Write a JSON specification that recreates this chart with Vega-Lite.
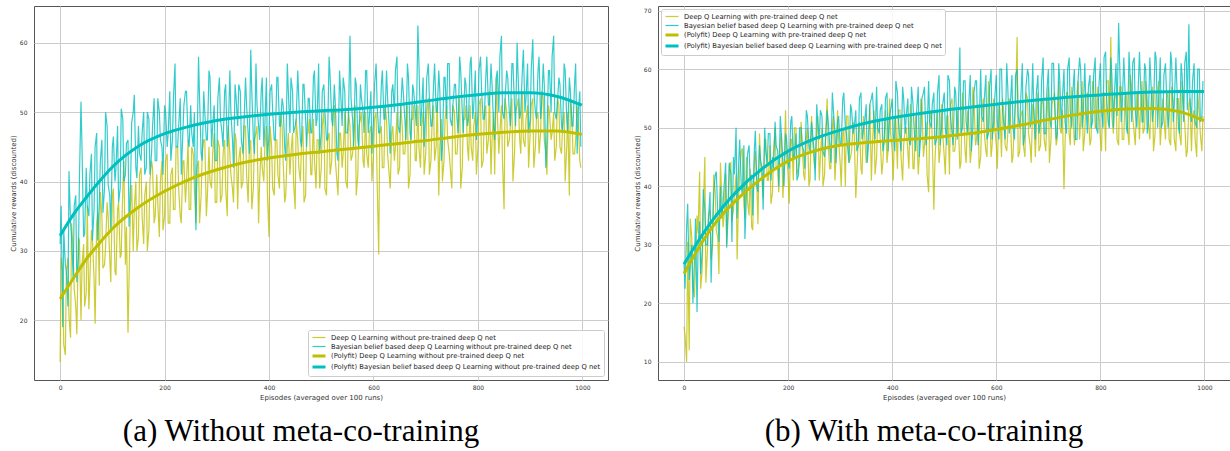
{
"$schema": "https://vega.github.io/schema/vega-lite/v6.json",
"background": "white",
"padding": {"left": 9, "top": 5, "right": 0, "bottom": 0},
"bounds": "flush",
"spacing": 50,
"config": {
 "view": {"stroke": "#555555", "strokeWidth": 1},
 "axis": {"domain": false, "ticks": false, "grid": true, "gridColor": "#cccccc", "gridWidth": 1, "labelFont": "DejaVu Sans", "labelFontSize": 6, "labelColor": "#333333", "titleFont": "DejaVu Sans", "titleFontSize": 7, "titleFontWeight": "normal", "titleColor": "#333333", "labelPadding": 7},
 "axisY": {"titleX": -20.5, "titleBaseline": "middle"},
 "axisX": {"titleY": 17, "titleBaseline": "middle", "labelPadding": 4, "format": "d"},
 "title": {"orient": "bottom", "anchor": "middle", "frame": "group", "dx": -20, "font": "Liberation Serif", "fontSize": 31, "fontWeight": "normal", "color": "#000000", "offset": 17},
 "legend": {"title": null, "fillColor": "rgba(255,255,255,0.85)", "strokeColor": "#cccccc", "padding": 3, "cornerRadius": 2, "labelFont": "DejaVu Sans", "labelFontSize": 6.8, "labelColor": "#222222", "symbolType": "M-1,0H2.714", "symbolSize": 49, "labelOffset": 10, "rowPadding": -1.6, "labelLimit": 500}
},
"datasets": {
 "noise": [
{"e":0,"a":14,"b":31,"c":16,"d":27},{"e":5,"a":27,"b":19,"c":10,"d":33},{"e":10,"a":15,"b":28,"c":12,"d":24},{"e":15,"a":29,"b":22,"c":31,"d":30},{"e":20,"a":17.5,"b":34,"c":21,"d":27},
{"e":25,"a":30,"b":26,"c":35,"d":18.5},{"e":30,"a":22,"b":38,"c":42.5,"d":34},{"e":35,"a":32,"b":29,"c":26,"d":29},{"e":40,"a":20,"b":51.5,"c":45,"d":36},{"e":45,"a":31,"b":32,"c":29,"d":30},
{"e":50,"a":24,"b":42,"c":36,"d":39},{"e":55,"a":21.6,"b":35,"c":30,"d":33},{"e":60,"a":33,"b":44,"c":39,"d":42},{"e":65,"a":26,"b":36,"c":31,"d":35},{"e":70,"a":34,"b":47,"c":44,"d":40},
{"e":75,"a":25,"b":37,"c":33,"d":37},{"e":80,"a":35,"b":46,"c":42,"d":44},{"e":85,"a":28,"b":39,"c":35,"d":38},{"e":90,"a":37,"b":48,"c":44,"d":42},{"e":95,"a":29,"b":38,"c":36,"d":45},
{"e":100,"a":38,"b":45,"c":42,"d":50},{"e":105,"a":27,"b":40,"c":38,"d":44},{"e":110,"a":36,"b":48,"c":46,"d":40},{"e":115,"a":29,"b":39,"c":37,"d":47},{"e":120,"a":39,"b":49,"c":45,"d":39},
{"e":125,"a":28,"b":41,"c":35,"d":47},{"e":130,"a":18.2,"b":46,"c":33,"d":42},{"e":135,"a":37,"b":40,"c":44,"d":46},{"e":140,"a":30,"b":50,"c":40,"d":40},{"e":145,"a":40,"b":42,"c":49,"d":47},
{"e":150,"a":32,"b":48,"c":41,"d":43},{"e":155,"a":42,"b":43,"c":48,"d":50},{"e":160,"a":31,"b":50,"c":41,"d":44},{"e":165,"a":40,"b":42,"c":47,"d":49},{"e":170,"a":33,"b":49,"c":39,"d":45},
{"e":175,"a":43,"b":44,"c":50,"d":51},{"e":180,"a":34,"b":52,"c":43,"d":46},{"e":185,"a":41,"b":43,"c":48,"d":52},{"e":190,"a":32,"b":50,"c":38,"d":44},{"e":195,"a":43,"b":45,"c":53,"d":49},
{"e":200,"a":35,"b":51,"c":42,"d":44},{"e":205,"a":44,"b":45,"c":48,"d":51},{"e":210,"a":34,"b":53,"c":41,"d":45},{"e":215,"a":42,"b":46,"c":50,"d":49},{"e":220,"a":36,"b":57,"c":43,"d":42},
{"e":225,"a":45,"b":45,"c":51,"d":50},{"e":230,"a":35,"b":52,"c":42,"d":46},{"e":235,"a":43,"b":47,"c":48,"d":53},{"e":240,"a":37,"b":53,"c":40,"d":47},{"e":245,"a":46,"b":46,"c":52,"d":51},
{"e":250,"a":36,"b":51,"c":44,"d":46},{"e":255,"a":44,"b":45,"c":49,"d":54},{"e":260,"a":34,"b":33,"c":41,"d":48},{"e":265,"a":43,"b":58,"c":50,"d":52},{"e":270,"a":38,"b":44,"c":42,"d":45},
{"e":275,"a":46,"b":53,"c":55,"d":53},{"e":280,"a":35,"b":46,"c":43,"d":47},{"e":285,"a":45,"b":56,"c":50,"d":56},{"e":290,"a":39,"b":45,"c":41,"d":49},{"e":295,"a":47,"b":51,"c":53,"d":51},
{"e":300,"a":37,"b":43,"c":44,"d":47},{"e":305,"a":45,"b":55,"c":49,"d":55},{"e":310,"a":38,"b":47,"c":40,"d":50},{"e":315,"a":46,"b":53,"c":52,"d":46},{"e":320,"a":35,"b":45,"c":45,"d":54},
{"e":325,"a":44,"b":56,"c":51,"d":49},{"e":330,"a":39,"b":46,"c":38,"d":53},{"e":335,"a":47,"b":54,"c":49,"d":47},{"e":340,"a":36,"b":48,"c":43,"d":56},{"e":345,"a":45,"b":53,"c":52,"d":50},
{"e":350,"a":40,"b":44,"c":44,"d":54},{"e":355,"a":48,"b":55,"c":50,"d":48},{"e":360,"a":37,"b":47,"c":41,"d":55},{"e":365,"a":46,"b":59,"c":53,"d":51},{"e":370,"a":39,"b":46,"c":45,"d":57},
{"e":375,"a":47,"b":57,"c":51,"d":49},{"e":380,"a":34,"b":48,"c":42,"d":54},{"e":385,"a":45,"b":53,"c":49,"d":48},{"e":390,"a":40,"b":45,"c":44,"d":56},{"e":395,"a":48,"b":55,"c":55,"d":52},
{"e":400,"a":32,"b":47,"c":46,"d":55},{"e":405,"a":45,"b":54,"c":52,"d":46},{"e":410,"a":38,"b":46,"c":43,"d":56},{"e":415,"a":46,"b":55,"c":53,"d":48},{"e":420,"a":39,"b":48,"c":41,"d":57},
{"e":425,"a":48,"b":52,"c":50,"d":49},{"e":430,"a":37,"b":45,"c":46,"d":55},{"e":435,"a":45,"b":57,"c":54,"d":47},{"e":440,"a":41,"b":47,"c":43,"d":54},{"e":445,"a":47,"b":53,"c":52,"d":46},
{"e":450,"a":36,"b":48,"c":42,"d":57},{"e":455,"a":46,"b":56,"c":55,"d":49},{"e":460,"a":40,"b":46,"c":45,"d":56},{"e":465,"a":48,"b":54,"c":51,"d":47},{"e":470,"a":38,"b":49,"c":39,"d":58},
{"e":475,"a":47,"b":52,"c":53,"d":50},{"e":480,"a":41,"b":47,"c":36,"d":56},{"e":485,"a":49,"b":55,"c":50,"d":48},{"e":490,"a":39,"b":48,"c":44,"d":59},{"e":495,"a":46,"b":57,"c":54,"d":50},
{"e":500,"a":42,"b":47,"c":45,"d":56},{"e":505,"a":50,"b":54,"c":52,"d":47},{"e":510,"a":38,"b":46,"c":42,"d":58},{"e":515,"a":47,"b":58,"c":55,"d":49},{"e":520,"a":43,"b":49,"c":46,"d":57},
{"e":525,"a":51,"b":54,"c":53,"d":48},{"e":530,"a":40,"b":44,"c":43,"d":63.7},{"e":535,"a":47,"b":56,"c":56,"d":50},{"e":540,"a":42,"b":48,"c":46,"d":58},{"e":545,"a":50,"b":53,"c":53,"d":49},
{"e":550,"a":39,"b":47,"c":44,"d":59},{"e":555,"a":48,"b":61,"c":57,"d":50},{"e":560,"a":44,"b":49,"c":47,"d":58},{"e":565,"a":51,"b":55,"c":54,"d":47},{"e":570,"a":41,"b":46,"c":45,"d":60},
{"e":575,"a":49,"b":54,"c":55,"d":51},{"e":580,"a":43,"b":50,"c":46,"d":59},{"e":585,"a":50,"b":56,"c":58,"d":49},{"e":590,"a":42,"b":47,"c":45,"d":60},{"e":595,"a":48,"b":53,"c":55,"d":51},
{"e":600,"a":44,"b":49,"c":47,"d":59},{"e":605,"a":50,"b":57,"c":54,"d":48},{"e":610,"a":29.5,"b":47,"c":45,"d":60},{"e":615,"a":48,"b":54,"c":52,"d":50},{"e":620,"a":42,"b":49,"c":46,"d":61},
{"e":625,"a":49,"b":56,"c":55,"d":49},{"e":630,"a":41,"b":48,"c":44,"d":59},{"e":635,"a":47,"b":53,"c":52,"d":48},{"e":640,"a":43,"b":50,"c":65.5,"d":60},{"e":645,"a":50,"b":58,"c":46,"d":50},
{"e":650,"a":42,"b":47,"c":53,"d":61},{"e":655,"a":48,"b":55,"c":45,"d":49},{"e":660,"a":44,"b":49,"c":55,"d":60},{"e":665,"a":51,"b":57,"c":47,"d":50},{"e":670,"a":41,"b":47,"c":54,"d":61},
{"e":675,"a":49,"b":54,"c":45,"d":48},{"e":680,"a":43,"b":50,"c":56,"d":59},{"e":685,"a":51,"b":62.5,"c":47,"d":51},{"e":690,"a":42,"b":48,"c":54,"d":62},{"e":695,"a":50,"b":55,"c":46,"d":49},
{"e":700,"a":44,"b":50,"c":57,"d":60},{"e":705,"a":52,"b":57,"c":48,"d":50},{"e":710,"a":43,"b":48,"c":55,"d":61},{"e":715,"a":51,"b":54,"c":47,"d":48},{"e":720,"a":45,"b":50,"c":58,"d":61},
{"e":725,"a":38,"b":56,"c":49,"d":50},{"e":730,"a":49,"b":43,"c":39.5,"d":60},{"e":735,"a":43,"b":55,"c":56,"d":49},{"e":740,"a":51,"b":49,"c":49,"d":62},{"e":745,"a":44,"b":57,"c":57,"d":50},
{"e":750,"a":39,"b":48,"c":47,"d":60},{"e":755,"a":50,"b":54,"c":56,"d":48},{"e":760,"a":44,"b":49,"c":48,"d":62},{"e":765,"a":52,"b":58,"c":58,"d":50},{"e":770,"a":42,"b":50,"c":49,"d":61},
{"e":775,"a":49,"b":55,"c":56,"d":49},{"e":780,"a":45,"b":48,"c":47,"d":59},{"e":785,"a":51,"b":57,"c":58,"d":51},{"e":790,"a":43,"b":49,"c":50,"d":62},{"e":795,"a":50,"b":56,"c":57,"d":49},
{"e":800,"a":45,"b":50,"c":48,"d":61},{"e":805,"a":52,"b":58,"c":56,"d":50},{"e":810,"a":43,"b":49,"c":46,"d":63},{"e":815,"a":51,"b":55,"c":58,"d":51},{"e":820,"a":46,"b":51,"c":65.5,"d":62},
{"e":825,"a":41,"b":57,"c":49,"d":50},{"e":830,"a":50,"b":48,"c":56,"d":61},{"e":835,"a":55,"b":55,"c":47,"d":67.9},{"e":840,"a":44,"b":50,"c":57,"d":51},{"e":845,"a":51,"b":61,"c":48,"d":62},
{"e":850,"a":36,"b":49,"c":56,"d":50},{"e":855,"a":50,"b":56,"c":47,"d":63},{"e":860,"a":46,"b":50,"c":57,"d":51},{"e":865,"a":52,"b":57,"c":49,"d":62},{"e":870,"a":44,"b":51,"c":56,"d":50},
{"e":875,"a":51,"b":60,"c":48,"d":63},{"e":880,"a":46,"b":49,"c":58,"d":51},{"e":885,"a":53,"b":56,"c":50,"d":61},{"e":890,"a":45,"b":50,"c":55,"d":49},{"e":895,"a":51,"b":57,"c":48,"d":62},
{"e":900,"a":47,"b":49,"c":57,"d":51},{"e":905,"a":52,"b":60.5,"c":49,"d":63},{"e":910,"a":45,"b":50,"c":56,"d":50},{"e":915,"a":50,"b":56,"c":47,"d":62},{"e":920,"a":47,"b":49,"c":55,"d":51},
{"e":925,"a":52,"b":57,"c":48,"d":61},{"e":930,"a":44,"b":42,"c":56,"d":50},{"e":935,"a":51,"b":56,"c":47,"d":63},{"e":940,"a":46,"b":50,"c":54,"d":51},{"e":945,"a":50,"b":61,"c":46,"d":62},
{"e":950,"a":45,"b":49,"c":55,"d":50},{"e":955,"a":51,"b":55,"c":47,"d":61},{"e":960,"a":44,"b":48,"c":53,"d":51},{"e":965,"a":50,"b":57,"c":45,"d":63},{"e":970,"a":45,"b":49,"c":54,"d":67.7},
{"e":975,"a":38,"b":55,"c":46,"d":51},{"e":980,"a":49,"b":48,"c":53,"d":61},{"e":985,"a":44,"b":54,"c":45,"d":50},{"e":990,"a":51,"b":44,"c":52,"d":60},{"e":995,"a":43,"b":53,"c":46,"d":52},
{"e":2,"a":29,"b":36.5,"c":14.5,"d":22.5},{"e":7,"a":16.5,"b":33,"c":30.5,"d":37},{"e":12,"a":27,"b":27,"c":34.5,"d":26.5},{"e":17,"a":20.5,"b":41.5,"c":23.5,"d":20},{"e":22,"a":34,"b":32,"c":26.5,"d":34.5},
{"e":27,"a":24.5,"b":36.5,"c":32,"d":30},{"e":32,"a":18,"b":25.5,"c":22.5,"d":25},{"e":37,"a":31.5,"b":40.5,"c":36,"d":39.5},{"e":42,"a":28,"b":44.5,"c":23.5,"d":30},{"e":47,"a":22,"b":32.5,"c":35,"d":34.5},
{"e":52,"a":36.5,"b":36.5,"c":27.5,"d":23.5},{"e":57,"a":26,"b":41,"c":42,"d":38.5},{"e":62,"a":31.5,"b":31.5,"c":32.5,"d":42.5},{"e":67,"a":19.5,"b":45,"c":25,"d":30.5},{"e":72,"a":35.5,"b":31.5,"c":39.5,"d":34.5},
{"e":77,"a":38.5,"b":43,"c":35,"d":40},{"e":82,"a":27.5,"b":35.5,"c":30,"d":29.5},{"e":87,"a":30.5,"b":50,"c":43.5,"d":44},{"e":92,"a":35,"b":39.5,"c":34,"d":30.5},{"e":97,"a":25.5,"b":33,"c":38.5,"d":42},
{"e":102,"a":39,"b":46.5,"c":27.5,"d":34.5},{"e":107,"a":26.5,"b":42,"c":42.5,"d":48},{"e":112,"a":37,"b":37,"c":46.5,"d":38.5},{"e":117,"a":29.5,"b":50.5,"c":34.5,"d":31},{"e":122,"a":43,"b":40,"c":37.5,"d":45.5},
{"e":127,"a":33.5,"b":45.5,"c":43,"d":41},{"e":132,"a":26,"b":33.5,"c":32.5,"d":35},{"e":137,"a":39.5,"b":48.5,"c":46,"d":49.5},{"e":142,"a":36,"b":52.5,"c":33.5,"d":39},{"e":147,"a":30,"b":40.5,"c":44,"d":44.5},
{"e":152,"a":41,"b":44,"c":38,"d":36},{"e":157,"a":35,"b":47,"c":48,"d":46},{"e":162,"a":38,"b":41,"c":41,"d":49},{"e":167,"a":30,"b":50,"c":37,"d":41},{"e":172,"a":40,"b":41,"c":46,"d":43},
{"e":177,"a":42,"b":48,"c":43,"d":47},{"e":182,"a":35,"b":43,"c":39,"d":40},{"e":187,"a":37,"b":52,"c":49,"d":49},{"e":192,"a":40,"b":46,"c":42,"d":40},{"e":197,"a":33,"b":41,"c":45,"d":48},
{"e":202,"a":43,"b":50,"c":37,"d":43},{"e":207,"a":34,"b":47,"c":48,"d":52},{"e":212,"a":41,"b":43,"c":50,"d":45},{"e":217,"a":36,"b":52,"c":42,"d":41},{"e":222,"a":45,"b":45,"c":44,"d":50},
{"e":227,"a":39,"b":48,"c":47,"d":47},{"e":232,"a":34,"b":41,"c":41,"d":43},{"e":237,"a":43,"b":51,"c":50,"d":52},{"e":242,"a":40,"b":53,"c":41,"d":46},{"e":247,"a":36,"b":45,"c":48,"d":49},
{"e":252,"a":45,"b":47,"c":43,"d":41},{"e":257,"a":39,"b":50,"c":52,"d":51},{"e":262,"a":42,"b":43,"c":45,"d":53},{"e":267,"a":34,"b":52,"c":40,"d":46},{"e":272,"a":44,"b":43,"c":49,"d":48},
{"e":277,"a":46,"b":50,"c":47,"d":51},{"e":282,"a":38,"b":46,"c":43,"d":44},{"e":287,"a":40,"b":55,"c":52,"d":53},{"e":292,"a":44,"b":48,"c":45,"d":44},{"e":297,"a":37,"b":43,"c":48,"d":52},
{"e":302,"a":46,"b":52,"c":40,"d":47},{"e":307,"a":37,"b":49,"c":50,"d":56},{"e":312,"a":44,"b":45,"c":52,"d":49},{"e":317,"a":39,"b":54,"c":44,"d":44},{"e":322,"a":48,"b":47,"c":46,"d":53},
{"e":327,"a":41,"b":50,"c":49,"d":50},{"e":332,"a":37,"b":42,"c":42,"d":46},{"e":337,"a":46,"b":52,"c":51,"d":55},{"e":342,"a":43,"b":54,"c":42,"d":48},{"e":347,"a":39,"b":46,"c":49,"d":51},
{"e":352,"a":48,"b":48,"c":45,"d":44},{"e":357,"a":41,"b":51,"c":54,"d":54},{"e":362,"a":44,"b":44,"c":47,"d":56},{"e":367,"a":36,"b":53,"c":42,"d":48},{"e":372,"a":46,"b":44,"c":51,"d":50},
{"e":377,"a":48,"b":51,"c":48,"d":53},{"e":382,"a":40,"b":46,"c":44,"d":46},{"e":387,"a":42,"b":55,"c":53,"d":55},{"e":392,"a":45,"b":48,"c":46,"d":46},{"e":397,"a":38,"b":43,"c":49,"d":53},
{"e":402,"a":48,"b":53,"c":41,"d":49},{"e":407,"a":39,"b":50,"c":51,"d":58},{"e":412,"a":46,"b":46,"c":53,"d":51},{"e":417,"a":41,"b":55,"c":45,"d":46},{"e":422,"a":50,"b":48,"c":47,"d":55},
{"e":427,"a":43,"b":51,"c":50,"d":52},{"e":432,"a":38,"b":43,"c":43,"d":48},{"e":437,"a":47,"b":53,"c":52,"d":57},{"e":442,"a":44,"b":55,"c":43,"d":50},{"e":447,"a":40,"b":47,"c":50,"d":53},
{"e":452,"a":49,"b":49,"c":45,"d":45},{"e":457,"a":42,"b":52,"c":54,"d":55},{"e":462,"a":45,"b":45,"c":47,"d":57},{"e":467,"a":37,"b":54,"c":42,"d":49},{"e":472,"a":47,"b":45,"c":51,"d":51},
{"e":477,"a":49,"b":52,"c":48,"d":54},{"e":482,"a":41,"b":47,"c":44,"d":47},{"e":487,"a":43,"b":56,"c":53,"d":56},{"e":492,"a":46,"b":49,"c":46,"d":47},{"e":497,"a":39,"b":44,"c":49,"d":54},
{"e":502,"a":48,"b":53,"c":42,"d":50},{"e":507,"a":39,"b":50,"c":52,"d":59},{"e":512,"a":46,"b":46,"c":54,"d":52},{"e":517,"a":41,"b":55,"c":46,"d":47},{"e":522,"a":50,"b":48,"c":48,"d":56},
{"e":527,"a":43,"b":51,"c":51,"d":53},{"e":532,"a":38,"b":43,"c":44,"d":49},{"e":537,"a":47,"b":53,"c":53,"d":58},{"e":542,"a":44,"b":55,"c":44,"d":51},{"e":547,"a":40,"b":47,"c":51,"d":54},
{"e":552,"a":50,"b":49,"c":46,"d":46},{"e":557,"a":43,"b":52,"c":55,"d":56},{"e":562,"a":46,"b":45,"c":48,"d":58},{"e":567,"a":38,"b":54,"c":43,"d":50},{"e":572,"a":48,"b":45,"c":52,"d":52},
{"e":577,"a":50,"b":52,"c":49,"d":55},{"e":582,"a":42,"b":47,"c":45,"d":48},{"e":587,"a":44,"b":56,"c":54,"d":57},{"e":592,"a":47,"b":49,"c":47,"d":48},{"e":597,"a":40,"b":44,"c":50,"d":55},
{"e":602,"a":49,"b":54,"c":43,"d":51},{"e":607,"a":40,"b":51,"c":53,"d":60},{"e":612,"a":47,"b":47,"c":55,"d":53},{"e":617,"a":42,"b":56,"c":47,"d":48},{"e":622,"a":51,"b":49,"c":49,"d":57},
{"e":627,"a":44,"b":52,"c":52,"d":54},{"e":632,"a":39,"b":44,"c":45,"d":50},{"e":637,"a":48,"b":54,"c":54,"d":59},{"e":642,"a":45,"b":56,"c":45,"d":52},{"e":647,"a":41,"b":48,"c":52,"d":55},
{"e":652,"a":51,"b":50,"c":47,"d":47},{"e":657,"a":44,"b":53,"c":56,"d":57},{"e":662,"a":47,"b":46,"c":49,"d":59},{"e":667,"a":39,"b":55,"c":44,"d":51},{"e":672,"a":49,"b":46,"c":53,"d":53},
{"e":677,"a":51,"b":53,"c":50,"d":56},{"e":682,"a":43,"b":48,"c":46,"d":49},{"e":687,"a":45,"b":57,"c":55,"d":58},{"e":692,"a":48,"b":50,"c":48,"d":49},{"e":697,"a":41,"b":45,"c":51,"d":56},
{"e":702,"a":50,"b":55,"c":44,"d":52},{"e":707,"a":41,"b":52,"c":54,"d":61},{"e":712,"a":48,"b":48,"c":56,"d":54},{"e":717,"a":43,"b":57,"c":48,"d":49},{"e":722,"a":52,"b":50,"c":50,"d":58},
{"e":727,"a":45,"b":53,"c":53,"d":55},{"e":732,"a":40,"b":45,"c":47,"d":51},{"e":737,"a":49,"b":55,"c":56,"d":60},{"e":742,"a":46,"b":57,"c":47,"d":53},{"e":747,"a":42,"b":49,"c":54,"d":56},
{"e":752,"a":51,"b":51,"c":49,"d":48},{"e":757,"a":44,"b":54,"c":58,"d":58},{"e":762,"a":47,"b":47,"c":51,"d":60},{"e":767,"a":39,"b":56,"c":46,"d":52},{"e":772,"a":49,"b":47,"c":55,"d":54},
{"e":777,"a":51,"b":54,"c":52,"d":57},{"e":782,"a":43,"b":49,"c":48,"d":50},{"e":787,"a":45,"b":58,"c":57,"d":59},{"e":792,"a":48,"b":51,"c":50,"d":50},{"e":797,"a":41,"b":46,"c":53,"d":57},
{"e":802,"a":51,"b":56,"c":46,"d":53},{"e":807,"a":42,"b":53,"c":56,"d":62},{"e":812,"a":49,"b":49,"c":58,"d":55},{"e":817,"a":44,"b":58,"c":50,"d":50},{"e":822,"a":53,"b":51,"c":52,"d":59},
{"e":827,"a":46,"b":54,"c":55,"d":56},{"e":832,"a":41,"b":46,"c":48,"d":52},{"e":837,"a":50,"b":56,"c":57,"d":61},{"e":842,"a":47,"b":58,"c":48,"d":54},{"e":847,"a":43,"b":50,"c":55,"d":57},
{"e":852,"a":52,"b":52,"c":50,"d":49},{"e":857,"a":45,"b":55,"c":59,"d":59},{"e":862,"a":48,"b":48,"c":52,"d":61},{"e":867,"a":40,"b":57,"c":47,"d":53},{"e":872,"a":50,"b":48,"c":56,"d":55},
{"e":877,"a":52,"b":55,"c":53,"d":58},{"e":882,"a":44,"b":50,"c":49,"d":51},{"e":887,"a":46,"b":59,"c":58,"d":60},{"e":892,"a":49,"b":52,"c":51,"d":51},{"e":897,"a":42,"b":47,"c":54,"d":58},
{"e":902,"a":51,"b":56,"c":46,"d":53},{"e":907,"a":42,"b":53,"c":56,"d":62},{"e":912,"a":49,"b":49,"c":58,"d":55},{"e":917,"a":44,"b":58,"c":50,"d":50},{"e":922,"a":53,"b":51,"c":52,"d":59},
{"e":927,"a":46,"b":54,"c":55,"d":56},{"e":932,"a":41,"b":46,"c":48,"d":52},{"e":937,"a":50,"b":56,"c":57,"d":61},{"e":942,"a":47,"b":58,"c":48,"d":54},{"e":947,"a":43,"b":50,"c":55,"d":57},
{"e":952,"a":52,"b":51,"c":49,"d":49},{"e":957,"a":45,"b":54,"c":58,"d":59},{"e":962,"a":48,"b":47,"c":51,"d":61},{"e":967,"a":40,"b":56,"c":46,"d":53},{"e":972,"a":50,"b":47,"c":55,"d":55},
{"e":977,"a":52,"b":53,"c":52,"d":58},{"e":982,"a":44,"b":48,"c":48,"d":51},{"e":987,"a":46,"b":57,"c":56,"d":60},{"e":992,"a":49,"b":50,"c":49,"d":51},{"e":997,"a":42,"b":45,"c":52,"d":58}
 ],
 "fit": [
{"e":0,"fa":23.1,"fb":32.2,"fc":25.1,"fd":26.7},{"e":25,"fa":26.0,"fb":35.2,"fc":29.0,"fd":30.3},{"e":50,"fa":28.8,"fb":37.7,"fc":32.5,"fd":33.6},{"e":75,"fa":31.1,"fb":40.0,"fc":35.3,"fd":36.5},
{"e":100,"fa":33.2,"fb":42.1,"fc":37.6,"fd":39.0},{"e":150,"fa":36.3,"fb":45.1,"fc":41.4,"fd":43.0},{"e":200,"fa":38.6,"fb":46.9,"fc":44.3,"fd":46.0},{"e":250,"fa":40.4,"fb":48.0,"fc":46.0,"fd":48.1},
{"e":300,"fa":41.7,"fb":48.8,"fc":47.0,"fd":49.6},{"e":350,"fa":42.7,"fb":49.3,"fc":47.5,"fd":50.8},{"e":400,"fa":43.4,"fb":49.7,"fc":47.8,"fd":51.7},{"e":450,"fa":43.9,"fb":50.0,"fc":48.1,"fd":52.4},
{"e":500,"fa":44.3,"fb":50.2,"fc":48.5,"fd":53.0},{"e":550,"fa":44.7,"fb":50.4,"fc":49.0,"fd":53.5},{"e":600,"fa":45.1,"fb":50.7,"fc":49.7,"fd":54.0},{"e":650,"fa":45.5,"fb":51.1,"fc":50.5,"fd":54.5},
{"e":700,"fa":45.9,"fb":51.6,"fc":51.4,"fd":54.9},{"e":750,"fa":46.4,"fb":52.1,"fc":52.2,"fd":55.3},{"e":800,"fa":46.8,"fb":52.5,"fc":52.8,"fd":55.6},{"e":850,"fa":47.1,"fb":52.8,"fc":53.2,"fd":55.9},
{"e":900,"fa":47.3,"fb":52.8,"fc":53.3,"fd":56.1},{"e":950,"fa":47.3,"fb":52.3,"fc":52.8,"fd":56.2},{"e":999,"fa":46.8,"fb":51.0,"fc":51.2,"fd":56.2}
 ]
},
"resolve": {"scale": {"x": "independent", "y": "independent", "color": "independent", "strokeWidth": "independent", "opacity": "independent"}, "legend": {"color": "independent", "strokeWidth": "independent", "opacity": "independent"}},
"hconcat": [
 {
  "width": 574, "height": 374,
  "title": {"text": "(a) Without meta-co-training"},
  "encoding": {
   "x": {"field": "e", "type": "quantitative", "scale": {"domain": [-50, 1049], "nice": false, "zero": false}, "axis": {"values": [0,200,400,600,800,1000], "title": "Episodes (averaged over 100 runs)"}},
   "y": {"field": "v", "type": "quantitative", "scale": {"domain": [11.4, 65.3], "nice": false, "zero": false}, "axis": {"values": [20,30,40,50,60], "title": "Cumulative rewards (discounted)"}},
   "color": {"field": "s", "type": "nominal", "scale": {"domain": ["a","b","fa","fb"], "range": ["#bfbf00","#00bfbf","#bfbf00","#00bfbf"]}, "legend": {"orient": "bottom-right", "offset": 4, "labelExpr": "datum.label == 'a' ? 'Deep Q Learning without pre-trained deep Q net' : datum.label == 'b' ? 'Bayesian belief based deep Q Learning without pre-trained deep Q net' : datum.label == 'fa' ? '(Polyfit) Deep Q Learning without pre-trained deep Q net' : '(Polyfit) Bayesian belief based deep Q Learning without pre-trained deep Q net'"}},
   "strokeWidth": {"field": "s", "type": "nominal", "scale": {"type": "ordinal", "domain": ["a","b","fa","fb"], "range": [1.2,1.2,3,3]}},
   "opacity": {"field": "s", "type": "nominal", "scale": {"type": "ordinal", "domain": ["a","b","fa","fb"], "range": [0.8,0.8,1,1]}}
  },
  "layer": [
   {"data": {"name": "noise"}, "transform": [{"fold": ["a","b"], "as": ["s","v"]}], "mark": {"type": "line", "clip": true}},
   {"data": {"name": "fit"}, "transform": [{"fold": ["fa","fb"], "as": ["s","v"]}], "mark": {"type": "line", "clip": true, "interpolate": "monotone"}}
  ]
 },
 {
  "width": 572, "height": 374,
  "title": {"text": "(b) With meta-co-training"},
  "encoding": {
   "x": {"field": "e", "type": "quantitative", "scale": {"domain": [-50, 1049], "nice": false, "zero": false}, "axis": {"values": [0,200,400,600,800,1000], "title": "Episodes (averaged over 100 runs)"}},
   "y": {"field": "v", "type": "quantitative", "scale": {"domain": [6.9, 70.8], "nice": false, "zero": false}, "axis": {"values": [10,20,30,40,50,60,70], "title": "Cumulative rewards (discounted)"}},
   "color": {"field": "s", "type": "nominal", "scale": {"domain": ["c","d","fc","fd"], "range": ["#bfbf00","#00bfbf","#bfbf00","#00bfbf"]}, "legend": {"orient": "top-left", "offset": 3, "labelExpr": "datum.label == 'c' ? 'Deep Q Learning with pre-trained deep Q net' : datum.label == 'd' ? 'Bayesian belief based deep Q Learning with pre-trained deep Q net' : datum.label == 'fc' ? '(Polyfit) Deep Q Learning with pre-trained deep Q net' : '(Polyfit) Bayesian belief based deep Q Learning with pre-trained deep Q net'"}},
   "strokeWidth": {"field": "s", "type": "nominal", "scale": {"type": "ordinal", "domain": ["c","d","fc","fd"], "range": [1.2,1.2,3,3]}},
   "opacity": {"field": "s", "type": "nominal", "scale": {"type": "ordinal", "domain": ["c","d","fc","fd"], "range": [0.8,0.8,1,1]}}
  },
  "layer": [
   {"data": {"name": "noise"}, "transform": [{"fold": ["c","d"], "as": ["s","v"]}], "mark": {"type": "line", "clip": true}},
   {"data": {"name": "fit"}, "transform": [{"fold": ["fc","fd"], "as": ["s","v"]}], "mark": {"type": "line", "clip": true, "interpolate": "monotone"}}
  ]
 }
]
}
